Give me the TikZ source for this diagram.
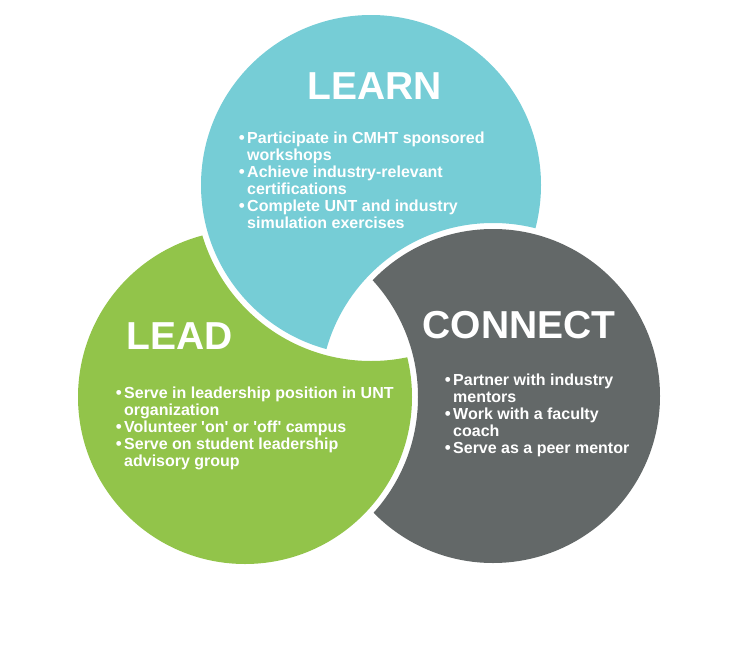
\documentclass[tikz,border=0pt]{standalone}
\usepackage{fontspec}
\setmainfont{Liberation Sans}
\definecolor{learnblue}{RGB}{118,205,214}
\definecolor{leadgreen}{RGB}{146,196,74}
\definecolor{connectgray}{RGB}{99,104,104}
\newcommand{\itm}{\llap{{\fontsize{17}{17}\selectfont\textbullet}\hspace{2.5pt}}}

\begin{document}
\begin{tikzpicture}[x=1pt, y=-1pt, every node/.style={text=white, inner sep=0pt}, title/.style={font=\fontsize{39}{39}\selectfont\bfseries, anchor=base}, items/.style={font=\fontsize{16}{17}\selectfont\bfseries, align=left, anchor=base west}]
        \useasboundingbox (0,0) rectangle (736,645);
        \coordinate (learnc) at (371,185);
        \coordinate (leadc) at (245,397);
        \coordinate (connectc) at (493,396);
        % each disc loses the part under the next one (with a white gap)
        \begin{scope}
            \clip (learnc) circle (170pt);
            \fill[learnblue, even odd rule] (0,0) rectangle (736,645) (connectc) circle (173pt);
        \end{scope}
        \begin{scope}
            \clip (connectc) circle (167pt);
            \fill[connectgray, even odd rule] (0,0) rectangle (736,645) (leadc) circle (173pt);
        \end{scope}
        \begin{scope}
            \clip (leadc) circle (167pt);
            \fill[leadgreen, even odd rule] (0,0) rectangle (736,645) (learnc) circle (176pt);
        \end{scope}
        \node[title] (learn) at (374.5,99) {LEARN};
        \node[title] (lead) at (180,349) {LEAD};
        \node[title] (connect) at (519,338) {CONNECT};
        % lists are placed by the baseline of their last line
        \node[items] (learnlist) at (247,228) {\itm Participate in CMHT sponsored\\workshops\\\itm Achieve industry-relevant\\certifications\\\itm Complete UNT and industry\\simulation exercises};
        \node[items] (leadlist) at (124,466) {\itm Serve in leadership position in UNT\\organization\\\itm Volunteer \textquotesingle on\textquotesingle{} or \textquotesingle off\textquotesingle{} campus\\\itm Serve on student leadership\\advisory group};
        \node[items] (connectlist) at (453,453) {\itm Partner with industry\\mentors\\\itm Work with a faculty\\coach\\\itm Serve as a peer mentor};
    \end{tikzpicture}
\end{document}
